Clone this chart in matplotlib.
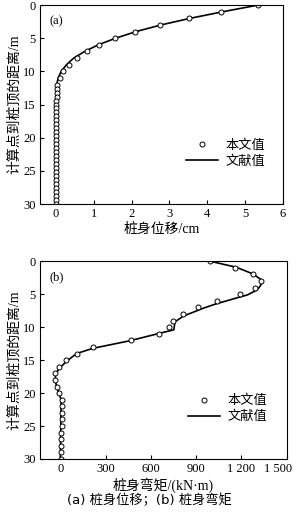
import matplotlib
matplotlib.use("Agg")
import matplotlib.pyplot as plt
import matplotlib.transforms as mtransforms
import numpy as np

plt.rcParams['font.family'] = ['Liberation Serif', 'Noto Sans CJK SC']

# ---- panel (a): pile displacement ----
a_circ_depth = [0, 1, 2, 3, 4, 5, 6, 7, 8, 9, 10, 11, 12,
                12.6, 13.2, 13.8, 14.4, 15.0, 15.6, 16.2, 16.8, 17.4, 18.0,
                18.6, 19.2, 19.8, 20.4, 21.0, 21.6, 22.2, 22.8, 23.4, 24.0,
                24.6, 25.2, 25.8, 26.4, 27.0, 27.6, 28.2, 28.8, 29.4, 30.0]
a_circ_disp = [5.34, 4.37, 3.51, 2.75, 2.09, 1.56, 1.14, 0.83, 0.55, 0.34, 0.19, 0.10, 0.04,
               0.03, 0.02, 0.02, 0.01, 0.01, 0.01, 0.0, 0.0, 0.0, 0.0,
               0.0, 0.0, 0.0, 0.0, 0.0, 0.0, 0.0, 0.0, 0.0, 0.0,
               0.0, 0.0, 0.0, 0.0, 0.0, 0.0, 0.0, 0.0, 0.0, 0.0]
a_line_depth = [0, 1, 2, 3, 4, 5, 6, 7, 8, 9, 10, 11, 12, 13, 14, 16, 20, 25, 30]
a_line_disp = [5.35, 4.42, 3.55, 2.78, 2.12, 1.58, 1.12, 0.76, 0.47, 0.28, 0.14, 0.06, 0.02,
               0.01, 0.0, 0.0, 0.0, 0.0, 0.0]

# ---- panel (b): bending moment ----
b_circ_depth = list(range(0, 31))
b_circ_moment = [995, 1160, 1275, 1330, 1293, 1190, 1035, 915, 815, 745, 717, 657, 467,
                 213, 107, 40, -9, -33, -35, -23, -9, 11, 10, 10, 9, 8, 7, 6, 5, 4, 2]
b_line_depth = [0, 0.9, 1.9, 3.0, 3.9, 4.4, 5.1, 6.4, 7.1, 8.3, 9.2, 9.6, 10.4, 10.9,
                12.05, 13.2, 14.0, 15.2, 16.2, 17.0, 18.0, 19.0, 20.0, 21.0, 25.0, 30.0]
b_line_moment = [995, 1165, 1275, 1345, 1320, 1300, 1240, 1040, 950, 817, 758, 757, 752, 662,
                 462, 217, 107, 40, -5, -30, -35, -25, -10, 5, 3, 0]

legend_labels = ['本文值', '文献值']
ylabel = '计算点到桩顶的距离/m'

fig = plt.figure(figsize=(2.99, 5.17), dpi=100)

def style(ax):
    ax.tick_params(direction='in', length=3, width=0.8, labelsize=9,
                   top=False, right=False, pad=3)
    for s in ax.spines.values():
        s.set_linewidth(0.8)
    ax.set_ylim(30, 0)
    ax.set_yticks([0, 5, 10, 15, 20, 25, 30])
    ax.set_ylabel(ylabel, fontsize=10, labelpad=2)

ax1 = fig.add_axes([0.1338, 0.6054, 0.8127, 0.3849])
ax1.plot(a_line_disp, a_line_depth, color='black', lw=1.2, label=legend_labels[1])
ax1.plot(a_circ_disp, a_circ_depth, 'o', ms=3.6, mfc='white', mec='black', mew=0.7,
         label=legend_labels[0])
ax1.set_xlim(-0.42, 6)
ax1.set_xticks([0, 1, 2, 3, 4, 5, 6])
style(ax1)
ax1.set_xlabel('桩身位移/cm', fontsize=10, labelpad=2)
ax1.text(0.04, 0.95, '(a)', transform=ax1.transAxes, fontsize=9, va='top', ha='left')
h, l = ax1.get_legend_handles_labels()
ax1.legend([h[1], h[0]], [l[1], l[0]], loc='upper left', bbox_to_anchor=(0.58, 0.35),
           frameon=False, fontsize=9.5, handlelength=2.4, handletextpad=0.6,
           borderaxespad=0, labelspacing=0.25)

ax2 = fig.add_axes([0.1338, 0.1122, 0.8250, 0.3824])
ax2.plot(b_line_moment, b_line_depth, color='black', lw=1.2, label=legend_labels[1])
ax2.plot(b_circ_moment, b_circ_depth, 'o', ms=3.6, mfc='white', mec='black', mew=0.7,
         label=legend_labels[0])
ax2.set_xlim(-135, 1500)
ax2.set_xticks([0, 300, 600, 900, 1200, 1500])
ax2.set_xticklabels(['0', '300', '600', '900', '1 200', '1 500'])
style(ax2)
last = ax2.get_xticklabels()[-1]
last.set_transform(last.get_transform() +
                   mtransforms.ScaledTranslation(-6 / 72, 0, fig.dpi_scale_trans))
ax2.set_xlabel('桩身弯矩/(kN·m)', fontsize=10, labelpad=2)
ax2.text(0.04, 0.95, '(b)', transform=ax2.transAxes, fontsize=9, va='top', ha='left')
h, l = ax2.get_legend_handles_labels()
ax2.legend([h[1], h[0]], [l[1], l[0]], loc='upper left', bbox_to_anchor=(0.58, 0.35),
           frameon=False, fontsize=9.5, handlelength=2.4, handletextpad=0.6,
           borderaxespad=0, labelspacing=0.25)

fig.text(0.5, 1 - 500 / 517, '(a) 桩身位移；(b) 桩身弯矩', ha='center', va='center',
         fontsize=9.5, family=['DejaVu Sans', 'Noto Sans CJK SC'])

fig.savefig('out.png', dpi=100)
